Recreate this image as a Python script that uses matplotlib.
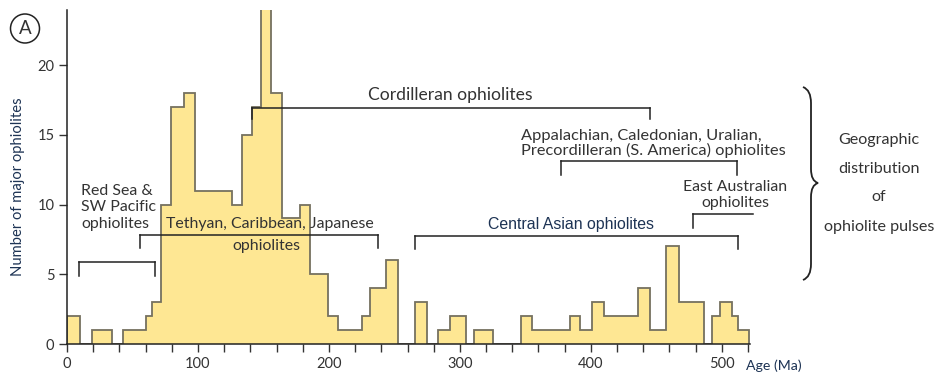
import matplotlib
matplotlib.use("Agg")
import matplotlib.pyplot as plt
from matplotlib.path import Path
from matplotlib.patches import PathPatch, Circle

# Age bins (Ma) and number of major ophiolites in each bin
age_edges = [0, 10, 19, 34, 43, 60, 65, 72, 79.5, 89.5, 98, 126, 134, 141.5, 148, 156,
             164.5, 178, 185.5, 199.5, 207, 225.5, 231, 243.5, 253, 266, 274.5, 283.5,
             292.5, 304.5, 310.5, 325.5, 347, 355, 384, 392, 401, 410, 436, 445, 457,
             467, 486, 492.5, 498.5, 507.5, 512, 521]
ophiolite_counts = [2, 0, 1, 0, 1, 2, 3, 10, 17, 18, 11, 10, 15, 17, 24, 18,
                    9, 10, 5, 2, 1, 2, 4, 6, 0, 3, 0, 1, 2, 0, 1, 0,
                    2, 1, 2, 1, 3, 2, 4, 1, 7, 3, 0, 2, 3, 2, 1]

x_ticks = [0, 100, 200, 300, 400, 500]
y_ticks = [0, 5, 10, 15, 20]

# Age ranges of the ophiolite pulses: (start, end, bar level, tick depth)
pulse_brackets = {
    "Red Sea & SW Pacific": (9.5, 67.5, 5.9, 1.0),
    "Tethyan, Caribbean, Japanese": (56, 237.5, 7.8, 0.9),
    "Cordilleran": (141, 445.5, 16.95, 0.8),
    "Appalachian": (377, 511.5, 13.1, 0.95),
    "Central Asian": (266, 512.5, 7.75, 0.95),
}

W, H, DPI = 938, 374, 100
fig = plt.figure(figsize=(W / DPI, H / DPI), dpi=DPI)
ax = fig.add_axes([67 / W, 30 / H, (750 - 67) / W, (364 - 30) / H])

FILL = "#FEE793"
EDGE = "#75715f"
TXT = "#333333"
NAVY = "#1d3354"
FONT = "Lato"
FS = 11.4

ax.stairs(ophiolite_counts, age_edges, fill=True, color=FILL, lw=0, zorder=1)
ax.stairs(ophiolite_counts, age_edges, color=EDGE, lw=1.3, zorder=2)

ax.set_xlim(0, 521.5)
ax.set_ylim(0, 23.95)
for s in ["top", "right"]:
    ax.spines[s].set_visible(False)
for s in ["left", "bottom"]:
    ax.spines[s].set_color("#222222")
    ax.spines[s].set_linewidth(1.1)

ax.set_xticks(x_ticks)
ax.set_xticks(range(0, 521, 20), minor=True)
ax.set_yticks(y_ticks)
ax.tick_params(axis="both", which="both", length=6, width=1, color="#333333",
               labelsize=10.5, labelcolor=TXT, pad=3)
for lab in ax.get_xticklabels() + ax.get_yticklabels():
    lab.set_fontfamily(FONT)

ax.set_ylabel("Number of major ophiolites", fontsize=10.6, color=NAVY,
              fontfamily=FONT)
ax.yaxis.set_label_coords(-0.061, 0.47)
fig.text(746 / W, 1 - 366 / H, "Age (Ma)", fontsize=10.2, color=NAVY,
         fontfamily=FONT, ha="left", va="center")


def bracket(start, end, level, depth, left_tick=True, right_tick=True):
    ax.plot([start, end], [level, level], color="#222222", lw=1.1,
            clip_on=False, zorder=4)
    if left_tick:
        ax.plot([start, start], [level, level - depth], color="#222222", lw=1.1,
                clip_on=False, zorder=4)
    if right_tick:
        ax.plot([end, end], [level, level - depth], color="#222222", lw=1.1,
                clip_on=False, zorder=4)


for name, (a, b, lv, d) in pulse_brackets.items():
    bracket(a, b, lv, d)
# East Australian bracket runs past the end of the axis
bracket(478, 524, 9.3, 1.0, right_tick=False)

tkw = dict(fontfamily=FONT, fontsize=FS, color=TXT, zorder=5)
ax.text(11, 9.8, "Red Sea &\nSW Pacific\nophiolites", ha="left", va="center",
        linespacing=1.22, **tkw)
ax.text(155, 8.6, "Tethyan, Caribbean, Japanese", ha="center", va="center", **tkw)
ax.text(152, 7.0, "ophiolites", ha="center", va="center", **tkw)
ax.text(293, 17.85, "Cordilleran ophiolites", ha="center", va="center",
        fontfamily=FONT, fontsize=12.6, color=TXT, zorder=5)
ax.text(346.5, 14.35, "Appalachian, Caledonian, Uralian,\nPrecordilleran (S. America) ophiolites",
        ha="left", va="center", linespacing=1.0, fontfamily=FONT, fontsize=11.75,
        color=TXT, zorder=5)
ax.text(510, 10.7, "East Australian\nophiolites", ha="center", va="center",
        linespacing=1.2, **tkw)
ax.text(385, 8.6, "Central Asian ophiolites", ha="center", va="center",
        fontfamily="Liberation Sans", fontsize=11.4, color=NAVY, zorder=5)


# Right-hand curly brace and caption
def fx(px):
    return px / W


def fy(py):
    return 1 - py / H


xl, xm, xt = 803, 811, 818
y0, y1, yc = 87, 280, 183
verts = [
    (fx(xl), fy(y0)),
    (fx(xm), fy(y0 + 3)), (fx(xm), fy(y0 + 16)),
    (fx(xm), fy(yc - 14)),
    (fx(xm), fy(yc - 2)), (fx(xt), fy(yc)),
    (fx(xm), fy(yc + 2)), (fx(xm), fy(yc + 14)),
    (fx(xm), fy(y1 - 16)),
    (fx(xm), fy(y1 - 3)), (fx(xl), fy(y1)),
]
codes = [Path.MOVETO, Path.CURVE3, Path.CURVE3, Path.LINETO,
         Path.CURVE3, Path.CURVE3, Path.CURVE3, Path.CURVE3,
         Path.LINETO, Path.CURVE3, Path.CURVE3]
fig.patches.append(PathPatch(Path(verts, codes), transform=fig.transFigure,
                             fill=False, lw=1.3, color="#222222"))

caption_lines = ["Geographic", "distribution", "of", "ophiolite pulses"]
caption_y = [140, 169, 197, 227]
for line, py in zip(caption_lines, caption_y):
    fig.text(fx(879), fy(py), line, ha="center", va="center", fontfamily=FONT,
             fontsize=11.6, color=TXT)

# Panel letter in a circle (sized in inches so it stays round)
fig.patches.append(Circle((25 / DPI, (H - 28.5) / DPI), 14.5 / DPI,
                          transform=fig.dpi_scale_trans, fill=False, lw=1.1,
                          color="#222222"))
fig.text(fx(25), fy(28.5), "A", ha="center", va="center", fontfamily=FONT,
         fontsize=13.5, color=TXT)

fig.savefig("out.png", dpi=DPI)
